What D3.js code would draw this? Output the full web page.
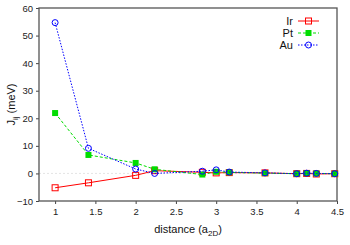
<!DOCTYPE html>
<html>
<head>
<meta charset="utf-8">
<script src="https://cdn.jsdelivr.net/npm/d3@7"></script>
<style>
  html, body { margin: 0; padding: 0; background: #fff; }
  svg { display: block; font-family: "Liberation Sans", Arial, sans-serif; }
</style>
</head>
<body>
<svg id="chart" width="350" height="245"></svg>
<script>
// pair distances (in units of a_2D)
const distances = [1, 1.414, 2, 2.236, 2.828, 3, 3.162, 3.606, 4, 4.123, 4.243, 4.472];
// exchange constants J_ij (meV)
const irValues = [-5.2, -3.4, -0.7, 1.0, 0.4, 0.2, 0.3, 0.2, -0.1, 0.0, -0.2, -0.1];
const ptValues = [21.9, 6.7, 3.8, 1.5, -0.4, 0.6, 0.4, 0.1, -0.1, 0.1, 0.0, -0.1];
const auValues = [54.7, 9.1, 1.6, 0.0, 0.8, 1.3, 0.5, 0.2, -0.1, 0.1, 0.0, -0.1];
const seriesNames = ['Ir', 'Pt', 'Au'];
const xTicks = [1, 1.5, 2, 2.5, 3, 3.5, 4, 4.5];
const yTicks = [-10, 0, 10, 20, 30, 40, 50, 60];

const margin = { left: 39, right: 13, top: 8, bottom: 44 };
const width = 350, height = 245;
const svg = d3.select('#chart');

const x = d3.scaleLinear().domain([0.8, 4.5]).range([margin.left, width - margin.right]);
const y = d3.scaleLinear().domain([-10, 60]).range([height - margin.bottom, margin.top]);

const styles = {
  Ir: { color: '#ff0000', dash: null, marker: 'openSquare' },
  Pt: { color: '#00dd00', dash: '3,2', marker: 'filledSquare' },
  Au: { color: '#0000ff', dash: '1.5,1.5', marker: 'openCircle' }
};
const valuesByName = { Ir: irValues, Pt: ptValues, Au: auValues };

// zero reference line
svg.append('line')
  .attr('x1', x(0.8)).attr('x2', x(4.5))
  .attr('y1', y(0)).attr('y2', y(0))
  .attr('stroke', '#dddddd').attr('stroke-width', 0.8)
  .attr('stroke-dasharray', '2,2');

// axes
const xAxis = svg.append('g')
  .attr('transform', `translate(0,${height - margin.bottom})`)
  .call(d3.axisBottom(x).tickValues(xTicks).tickSize(3).tickPadding(4).tickFormat(d3.format('')));
const yAxis = svg.append('g')
  .attr('transform', `translate(${margin.left},0)`)
  .call(d3.axisLeft(y).tickValues(yTicks).tickSize(3).tickPadding(3)
    .tickFormat(d => d < 0 ? '\u2212' + Math.abs(d) : d));
[xAxis, yAxis].forEach(g => {
  g.select('.domain').remove();
  g.selectAll('.tick line').attr('stroke', '#444');
  g.selectAll('.tick text').attr('fill', '#222').style('font-size', '9.5px')
    .style('font-family', '"Liberation Sans", Arial, sans-serif');
});

// frame
svg.append('rect')
  .attr('x', margin.left).attr('y', margin.top)
  .attr('width', width - margin.left - margin.right)
  .attr('height', height - margin.top - margin.bottom)
  .attr('fill', 'none').attr('stroke', '#555').attr('stroke-width', 1.3);

function drawMarker(g, type, color, cx, cy) {
  if (type === 'openSquare') {
    g.append('rect').attr('x', cx - 3).attr('y', cy - 3).attr('width', 6).attr('height', 6)
      .attr('fill', 'none').attr('stroke', color).attr('stroke-width', 1);
  } else if (type === 'filledSquare') {
    g.append('rect').attr('x', cx - 3).attr('y', cy - 3).attr('width', 6).attr('height', 6)
      .attr('fill', color);
  } else {
    g.append('circle').attr('cx', cx).attr('cy', cy).attr('r', 3)
      .attr('fill', 'none').attr('stroke', color).attr('stroke-width', 1);
  }
}

const line = d3.line().x(d => x(d[0])).y(d => y(d[1]));

seriesNames.forEach(name => {
  const s = styles[name];
  const pts = distances.map((d, i) => [d, valuesByName[name][i]]);
  const g = svg.append('g');
  g.append('path').datum(pts)
    .attr('d', line).attr('fill', 'none')
    .attr('stroke', s.color).attr('stroke-width', 1)
    .attr('stroke-dasharray', s.dash);
  pts.forEach(p => drawMarker(g, s.marker, s.color, x(p[0]), y(p[1])));
});

// legend
seriesNames.forEach((name, i) => {
  const s = styles[name];
  const ly = 21 + i * 12;
  const g = svg.append('g');
  g.append('text').attr('x', 293).attr('y', ly).attr('dy', '0.35em')
    .attr('text-anchor', 'end').style('font-size', '11px').attr('fill', '#111').text(name);
  g.append('line').attr('x1', 298).attr('x2', 319).attr('y1', ly).attr('y2', ly)
    .attr('stroke', s.color).attr('stroke-width', 1).attr('stroke-dasharray', s.dash);
  drawMarker(g, s.marker, s.color, 308.5, ly);
});

// axis labels
const xl = svg.append('text').attr('x', (margin.left + width - margin.right) / 2).attr('y', 233)
  .attr('text-anchor', 'middle').style('font-size', '11px').attr('fill', '#111');
xl.append('tspan').text('distance (a');
xl.append('tspan').attr('dy', 3).style('font-size', '8px').text('2D');
xl.append('tspan').attr('dy', -3).text(')');

const yl = svg.append('text')
  .attr('transform', `translate(15,${(margin.top + height - margin.bottom) / 2}) rotate(-90)`)
  .attr('text-anchor', 'middle').style('font-size', '11px').attr('fill', '#111');
yl.append('tspan').text('J');
yl.append('tspan').attr('dy', 3).style('font-size', '8px').text('ij');
yl.append('tspan').attr('dy', -3).text(' (meV)');
</script>
</body>
</html>
